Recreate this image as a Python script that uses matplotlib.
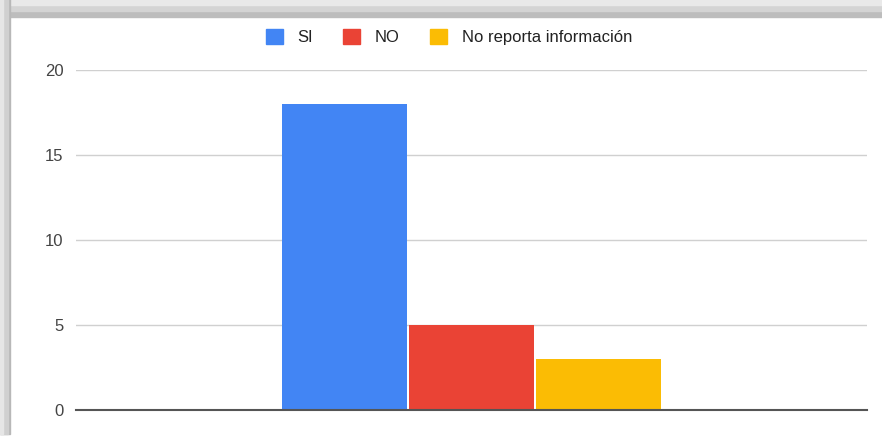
import matplotlib
matplotlib.use("Agg")
import matplotlib.pyplot as plt
from matplotlib.patches import Rectangle, Patch

series = ["SI", "NO", "No reporta información"]
values = [18, 5, 3]
colors = ["#4285F4", "#EA4335", "#FBBC04"]
yticks = [0, 5, 10, 15, 20]

plt.rcParams["font.family"] = ["Liberation Sans", "DejaVu Sans"]

fig = plt.figure(figsize=(8.82, 4.43), dpi=100)

# screenshot frame shadow (top and left)
fig.patches.append(Rectangle((0, 1 - 17/443), 1, 17/443, transform=fig.transFigure,
                             color="#bdbdbd", zorder=0))
fig.patches.append(Rectangle((0, 1 - 11/443), 1, 11/443, transform=fig.transFigure,
                             color="#d4d4d4", zorder=0))
fig.patches.append(Rectangle((0, 1 - 5/443), 1, 5/443, transform=fig.transFigure,
                             color="#e9e9e9", zorder=0))
fig.patches.append(Rectangle((0, 0.02), 10/882, 1, transform=fig.transFigure,
                             color="#b8b8b8", zorder=0))
fig.patches.append(Rectangle((0, 0.02), 8/882, 1, transform=fig.transFigure,
                             color="#d0d0d0", zorder=0))
fig.patches.append(Rectangle((0, 0.02), 3/882, 1, transform=fig.transFigure,
                             color="#e6e6e6", zorder=0))

ax = fig.add_axes([76/882, 33/443, 791/882, 340/443])
ax.set_facecolor("none")

step = 0.1605
for i, (v, c) in enumerate(zip(values, colors)):
    ax.bar((i - 1) * step, v, width=0.157, color=c, zorder=2)

ax.set_xlim(-0.5, 0.5)
ax.set_ylim(0, 20)
ax.set_yticks(yticks)
ax.set_xticks([])
ax.yaxis.grid(True, color="#d0d0d0", linewidth=1)
ax.set_axisbelow(True)
for s in ["top", "right", "left"]:
    ax.spines[s].set_visible(False)
ax.spines["bottom"].set_color("#555555")
ax.spines["bottom"].set_linewidth(1.5)
ax.spines["bottom"].set_zorder(3)
ax.tick_params(axis="y", length=0, pad=9, labelsize=12, labelcolor="#444444")

handles = [Patch(color=c, label=s) for s, c in zip(series, colors)]
fig.legend(handles=handles, loc="center", bbox_to_anchor=(449/882, 1 - 37/443),
           ncol=3, frameon=False, fontsize=12, handlelength=1.0, handleheight=1.0,
           handletextpad=0.9, columnspacing=1.8, labelcolor="#222222")

fig.savefig("out.png", dpi=100, facecolor="white")
